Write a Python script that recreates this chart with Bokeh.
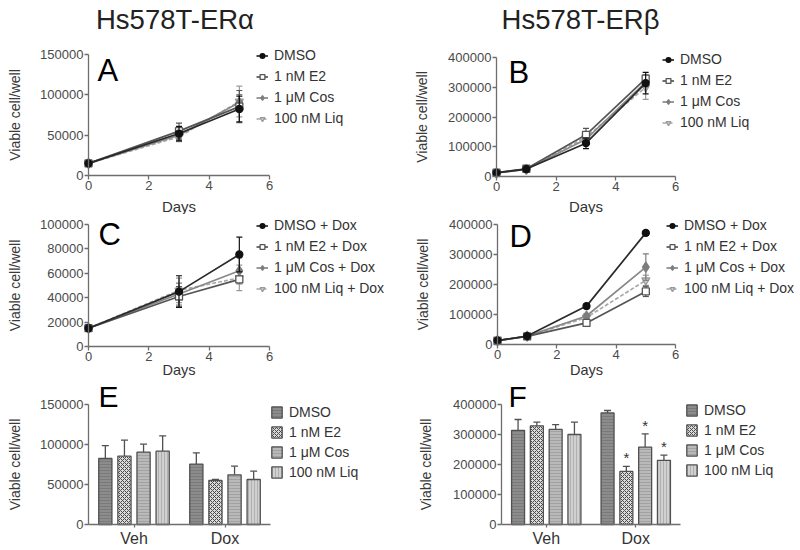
from bokeh.plotting import figure
from bokeh.layouts import column, row
from bokeh.models import (Range1d, FixedTicker, BasicTickFormatter, Label,
                          ColumnDataSource, Legend, LegendItem)
from bokeh.core.properties import value
from bokeh.embed import file_html
from bokeh.resources import INLINE

FONT = "Liberation Sans"

# ---------------- data ----------------
titles = ["Hs578T-ERα", "Hs578T-ERβ"]
letters = ["A", "B", "C", "D", "E", "F"]
treatments = ["DMSO", "1 nM E2", "1 μM Cos", "100 nM Liq"]
treatments_dox = ["DMSO + Dox", "1 nM E2 + Dox", "1 μM Cos + Dox", "100 nM Liq + Dox"]
groups = ["Veh", "Dox"]
x_label = "Days"
y_label = "Viable cell/well"

days_alpha = [0, 3, 5]
days_beta = [0, 1, 3, 5]
day_ticks = [0, 2, 4, 6]

yticks_a = [0, 50000, 100000, 150000]
yticks_b = [0, 100000, 200000, 300000, 400000]
yticks_c = [0, 20000, 40000, 60000, 80000, 100000]
yticks_d = [0, 100000, 200000, 300000, 400000]
yticks_e = [0, 50000, 100000, 150000]
yticks_f = [0, 100000, 200000, 300000, 400000]

# Panel A (Hs578T-ERa, vehicle)
a_dmso = [15000, 52000, 82500]
a_e2 = [15000, 55000, 85400]
a_cos = [15000, 50000, 90400]
a_liq = [15000, 48000, 91700]
a_dmso_err = [1000, 9000, 16000]
a_e2_err = [1000, 10000, 20000]
a_cos_err = [1000, 7000, 10000]
a_liq_err = [1000, 6000, 19000]

# Panel B (Hs578T-ERb, vehicle)
b_dmso = [12000, 25000, 112000, 314000]
b_e2 = [13000, 26000, 140000, 329000]
b_cos = [12000, 24000, 125000, 317000]
b_liq = [12000, 25000, 132000, 300000]
b_dmso_err = [2000, 3000, 18000, 36000]
b_e2_err = [2000, 3000, 22000, 12000]
b_cos_err = [2000, 3000, 15000, 16000]
b_liq_err = [2000, 3000, 12000, 41000]

# Panel C (Hs578T-ERa, + Dox)
c_dmso = [15000, 45000, 75400]
c_e2 = [15000, 41000, 55000]
c_cos = [15000, 43000, 62100]
c_liq = [15000, 46000, 56250]
c_dmso_err = [500, 13000, 14200]
c_e2_err = [500, 8000, 1300]
c_cos_err = [500, 9000, 10800]
c_liq_err = [500, 10000, 10400]

# Panel D (Hs578T-ERb, + Dox)
d_dmso = [13000, 28000, 128000, 372000]
d_e2 = [13000, 27000, 72000, 177000]
d_cos = [13000, 28000, 95000, 258000]
d_liq = [13000, 27000, 90000, 214000]
d_dmso_err = [2000, 3000, 8000, 8000]
d_e2_err = [2000, 3000, 6000, 17000]
d_cos_err = [2000, 3000, 8000, 44000]
d_liq_err = [2000, 3000, 7000, 17000]

# Panel E (day 5, ERa)
e_veh = [82500, 85400, 90400, 91700]
e_veh_err = [16000, 20000, 10000, 19000]
e_dox = [75400, 55000, 62100, 56250]
e_dox_err = [14200, 1300, 10800, 10400]
e_veh_sig = ["", "", "", ""]
e_dox_sig = ["", "", "", ""]

# Panel F (day 5, ERb)
f_veh = [314000, 329000, 317000, 300000]
f_veh_err = [36000, 12000, 16000, 41000]
f_dox = [372000, 177000, 258000, 214000]
f_dox_err = [8000, 17000, 44000, 17000]
f_veh_sig = ["", "", "", ""]
f_dox_sig = ["", "*", "*", "*"]

# ---------------- layout constants (page pixels) ----------------
COL_X = [0, 400]
COL_W = 400
ROWS = [(0, 214), (214, 164), (378, 172)]

LINE_STYLE = [
    dict(marker="circle", size=7, fill="#111111", line="#111111", lcolor="#2a2a2a", dash="solid"),
    dict(marker="square", size=7, fill="#ffffff", line="#555555", lcolor="#555555", dash="solid"),
    dict(marker="diamond", size=10, fill="#7d7d7d", line="#7d7d7d", lcolor="#888888", dash="solid"),
    dict(marker="inverted_triangle", size=8, fill="#d0d0d0", line="#9a9a9a", lcolor="#a8a8a8", dash="4 2"),
]
BAR_STYLE = [
    dict(fill="#8c8c8c", hatch="horizontal_line", hcolor="#7a7a7a", scale=3.0),
    dict(fill="#dcdcdc", hatch="diagonal_cross", hcolor="#4a4a4a", scale=4.0),
    dict(fill="#b9b9b9", hatch="horizontal_line", hcolor="#a2a2a2", scale=3.0),
    dict(fill="#d0d0d0", hatch="vertical_line", hcolor="#b0b0b0", scale=3.0),
]
BAR_STEP = 0.21
BAR_W = 0.145
AX = "#6e6e6e"


class Panel:
    """Figure whose frame fills the canvas; the data rectangle sits at rect (page px)."""

    def __init__(self, rect, col, rowi, x0, x1, y0, y1):
        self.rect = rect
        fl, ft, fw, fh = rect
        self.cx = COL_X[col]
        self.ry, self.rh = ROWS[rowi]
        self.x0, self.x1, self.y0, self.y1 = x0, x1, y0, y1
        kx = (x1 - x0) / fw
        ky = (y1 - y0) / fh
        xr = Range1d(x0 - (fl - self.cx) * kx, x1 + (self.cx + COL_W - fl - fw) * kx)
        yr = Range1d(y0 - (self.ry + self.rh - ft - fh) * ky, y1 + (ft - self.ry) * ky)
        p = figure(x_range=xr, y_range=yr, width=COL_W, height=self.rh, min_border=0,
                   output_backend="svg", toolbar_location=None)
        p.outline_line_color = None
        p.xgrid.visible = False
        p.ygrid.visible = False
        p.background_fill_color = "white"
        p.border_fill_color = "white"
        p.xaxis.fixed_location = y0
        p.yaxis.fixed_location = x0
        p.xaxis.bounds = (x0, x1)
        p.yaxis.bounds = (y0, y1)
        for ax in [p.xaxis[0], p.yaxis[0]]:
            ax.axis_line_color = AX
            ax.axis_line_width = 1.3
            ax.major_tick_line_color = AX
            ax.major_tick_line_width = 1.3
            ax.major_tick_in = 0
            ax.major_tick_out = 4
            ax.minor_tick_line_color = None
            ax.major_label_text_font = FONT
            ax.major_label_text_color = "#4a4a4a"
            ax.major_label_text_font_size = "13px"
            ax.major_label_standoff = 1
        p.yaxis.formatter = BasicTickFormatter(use_scientific=False)
        p.yaxis.axis_label = y_label
        p.yaxis.axis_label_text_font = FONT
        p.yaxis.axis_label_text_font_size = "14px"
        p.yaxis.axis_label_text_font_style = "normal"
        p.yaxis.axis_label_text_color = "#3a3a3a"
        self.p = p

    def data(self, px, py):
        fl, ft, fw, fh = self.rect
        return (self.x0 + (px - fl) / fw * (self.x1 - self.x0),
                self.y0 + (ft + fh - py) / fh * (self.y1 - self.y0))

    def text(self, px, py, text, size, color="#111111", align="left"):
        # py is the vertical centre of the text
        x, y = self.data(px, py)
        self.p.add_layout(Label(x=x, y=y, text=text, text_font=FONT, text_font_size=size,
                                text_color=color, text_align=align, text_baseline="middle"))

    def legend(self, items, left_px, top_px, item_h, glyph_h, glyph_w, spacing):
        n = len(items)
        bottom_px = top_px + n * item_h + (n - 1) * spacing
        leg = Legend(items=items, location=(left_px - self.cx, self.ry + self.rh - bottom_px))
        leg.border_line_color = None
        leg.background_fill_alpha = 0
        leg.padding = 0
        leg.margin = 0
        leg.spacing = spacing
        leg.glyph_width = glyph_w
        leg.glyph_height = glyph_h
        leg.label_height = item_h
        leg.label_standoff = 6
        leg.label_text_font = FONT
        leg.label_text_font_size = "14px"
        leg.label_text_color = "#333333"
        self.p.add_layout(leg)


def line_panel(rect, col, rowi, days, ymax, yticks, series, errors, labels,
               letter, letter_px, legend_px, days_px, days_size, ylab_standoff,
               title=None, title_px=None):
    P = Panel(rect, col, rowi, 0, 6, 0, ymax)
    p = P.p
    p.xaxis.ticker = FixedTicker(ticks=day_ticks)
    p.yaxis.ticker = FixedTicker(ticks=yticks)
    p.yaxis.axis_label_standoff = ylab_standoff
    items = [None] * len(series)
    for i in reversed(range(len(series))):
        st = LINE_STYLE[i]
        vals, err = series[i], errors[i]
        src = ColumnDataSource(dict(x=days, y=vals,
                                    lo=[v - e for v, e in zip(vals, err)],
                                    hi=[v + e for v, e in zip(vals, err)]))
        p.segment("x", "lo", "x", "hi", source=src, line_color=st["line"], line_width=1.2)
        p.scatter("x", "hi", source=src, marker="dash", size=6, line_color=st["line"], line_width=1.2)
        p.scatter("x", "lo", source=src, marker="dash", size=6, line_color=st["line"], line_width=1.2)
        lr = p.line("x", "y", source=src, line_color=st["lcolor"], line_width=1.7, line_dash=st["dash"])
        mr = p.scatter("x", "y", source=src, marker=st["marker"], size=st["size"],
                       fill_color=st["fill"], line_color=st["line"], line_width=1.3)
        items[i] = LegendItem(label=labels[i], renderers=[lr, mr])
    P.legend(items, legend_px[0], legend_px[1], 17, 17, 12, 4)
    P.text(letter_px[0], letter_px[1], letter, "31px", "#000000")
    P.text(days_px[0], days_px[1], x_label, days_size, "#333333", align="center")
    if title:
        P.text(title_px[0], title_px[1], title, "27.5px", "#222222", align="center")
    return p


def bar_panel(rect, col, rowi, ymax, yticks, veh, veh_err, dox, dox_err, veh_sig, dox_sig,
              letter, letter_px, legend_px, ylab_standoff):
    ng = len(groups)
    P = Panel(rect, col, rowi, 0, ng, 0, ymax)
    p = P.p
    centers = [g + 0.5 for g in range(ng)]
    p.yaxis.ticker = FixedTicker(ticks=yticks)
    p.yaxis.axis_label_standoff = ylab_standoff
    p.xaxis.ticker = FixedTicker(ticks=centers)
    p.xaxis.major_label_overrides = {c: g for c, g in zip(centers, groups)}
    p.xaxis.major_label_text_font_size = "16px"
    p.xaxis.major_label_text_color = "#333333"
    p.xaxis.major_tick_out = 3
    p.xaxis.major_label_standoff = 2
    items = []
    for i in range(len(veh)):
        st = BAR_STYLE[i]
        xs = [c + (i - 1.5) * BAR_STEP for c in centers]
        src = ColumnDataSource(dict(x=xs, top=[veh[i], dox[i]],
                                    up=[veh[i] + veh_err[i], dox[i] + dox_err[i]],
                                    sig=[veh_sig[i], dox_sig[i]]))
        p.segment("x", "top", "x", "up", source=src, line_color="#505050", line_width=1.3)
        p.scatter("x", "up", source=src, marker="dash", size=7, line_color="#505050", line_width=1.3)
        r = p.vbar(x="x", top="top", width=BAR_W, source=src, fill_color=st["fill"],
                   hatch_pattern=st["hatch"], hatch_color=st["hcolor"], hatch_scale=st["scale"],
                   hatch_weight=1.0, line_color="#505050", line_width=1.3)
        p.text(x="x", y="up", text="sig", source=src, text_align="center", text_baseline="bottom",
               text_font=value(FONT), text_font_size="15px", text_color="#333333")
        items.append(LegendItem(label=treatments[i], renderers=[r]))
    P.legend(items, legend_px[0], legend_px[1], 16, 14, 13, 4)
    P.text(letter_px[0], letter_px[1], letter, "30px", "#000000")
    return p


pA = line_panel((88, 54, 181, 121), 0, 0, days_alpha, 150000, yticks_a,
                [a_dmso, a_e2, a_cos, a_liq], [a_dmso_err, a_e2_err, a_cos_err, a_liq_err],
                treatments, letters[0], (97, 70), (256, 46.5), (178.5, 205.5), "15px", 14,
                title=titles[0], title_px=(174.5, 19))
pB = line_panel((496, 57, 179, 119), 1, 0, days_beta, 400000, yticks_b,
                [b_dmso, b_e2, b_cos, b_liq], [b_dmso_err, b_e2_err, b_cos_err, b_liq_err],
                treatments, letters[1], (508, 72), (662, 50.5), (585.5, 205.5), "15px", 15,
                title=titles[1], title_px=(580, 19))
pC = line_panel((88, 224, 181, 122), 0, 1, days_alpha, 100000, yticks_c,
                [c_dmso, c_e2, c_cos, c_liq], [c_dmso_err, c_e2_err, c_cos_err, c_liq_err],
                treatments_dox, letters[2], (98, 234), (256, 216.5), (178.5, 369.5), "14.5px", 14)
pD = line_panel((497, 224, 178, 120), 1, 1, days_beta, 400000, yticks_d,
                [d_dmso, d_e2, d_cos, d_liq], [d_dmso_err, d_e2_err, d_cos_err, d_liq_err],
                treatments_dox, letters[3], (509, 235.5), (666, 216.5), (586, 369.5), "14.5px", 15)
pE = bar_panel((88, 404, 182, 120), 0, 2, 150000, yticks_e, e_veh, e_veh_err, e_dox, e_dox_err,
               e_veh_sig, e_dox_sig, letters[4], (98, 395.5), (270, 404), 14)
pF = bar_panel((501, 404, 179, 120), 1, 2, 400000, yticks_f, f_veh, f_veh_err, f_dox, f_dox_err,
               f_veh_sig, f_dox_sig, letters[5], (508, 395.5), (685, 402), 16)

layout = column(row(pA, pB), row(pC, pD), row(pE, pF))
open("out.html", "w").write(file_html(layout, INLINE, title="Hs578T ER growth"))
